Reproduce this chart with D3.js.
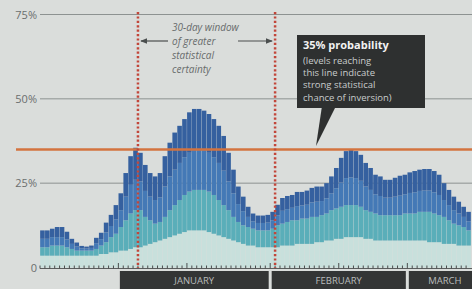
<!DOCTYPE html>
<html><head><meta charset="utf-8">
<script src="https://cdn.jsdelivr.net/npm/d3@7"></script>
<style>html,body{margin:0;padding:0;background:#dadddb;}svg{display:block;}</style>
</head><body>
<script>
// ---- data ----
const startDate = new Date(2014, 11, 16);
const endDate = new Date(2015, 2, 14);
const yTicks = [0, 25, 50, 75];
const yTickLabels = ["0", "25%", "50%", "75%"];
const threshold = 35;
const windowDates = [new Date(2015, 0, 5), new Date(2015, 1, 2)];
const months = ["JANUARY", "FEBRUARY", "MARCH"];
const monthStarts = [new Date(2015, 0, 1), new Date(2015, 1, 1), new Date(2015, 2, 1)];
// cumulative band tops (percent)
const paleTop = [3.5,3.5,3.5,3.5,3.5,3.5,3.5,3.5,3.5,3.5,
  3.5,3.5,4,4,4.5,4.5,5,5,5.5,6,
  6,6.5,7,7.5,8,8.5,9,9.5,10,10.5,
  11,11,11,11,10.5,10,9.5,9,8.5,8,
  7.5,7,6.5,6.5,6,6,6,6,6,6.5,
  6.5,6.5,7,7,7,7,7.5,7.5,8,8,
  8.5,8.5,9,9,9,9,8.5,8.5,8,8,
  8,8,8,8,8,8,8,8,8,7.5,
  7.5,7.5,7,7,7,6.5,6.5,6.5];
const tealTop = [6,6,6.5,6.5,6.5,6,5.5,5,5,5,
  5,5.5,6.5,7.5,9,10,12,14,16,17,
  17,15,14,13,13.5,15,17,18.5,20,21.5,
  22.5,23,23,23,22.5,21.5,20,18.5,17,15,
  13.5,12.5,12,11.5,11,11,11,11.5,12.5,13,
  13.5,14,14,14.5,14.5,15,15,15.5,16,17,
  17.5,18,18.5,18.5,18.5,18,17,16.5,16,15.5,
  15.5,15.5,15.5,15.5,16,16,16,16.5,16.5,16.5,
  16,15.5,15,14,13,12.5,12,11];
const blueTop = [8.5,8.5,9,9,9,8.3,7,6.2,5.7,5.6,
  5.8,7.2,8.4,10.4,12.3,14.3,17,21,24.5,26,
  25.5,22.7,21,20,20.8,24,27,29,31,32.7,
  34,35,35,34.8,34,32.7,31,28.7,25.5,22,
  18.8,16.7,15,13.7,13.2,13.2,13.3,14,15.5,16.8,
  17.3,17.7,18.2,18.4,18.6,19.3,19.5,19.7,20.5,22,
  23.5,25.2,26.5,26.7,26.5,25.7,24,23,21.7,21.2,
  20.7,20.7,21,21.3,21.7,22.1,22.3,22.7,22.8,22.8,
  22.3,21.5,20,18.5,17,16,15,13.7];
const totalTop = [11,11,11.5,12,12,10.6,8.5,7.4,6.4,6.2,
  6.5,8.8,10.3,13.3,15.6,18.5,22,28,33,35.5,
  34,30.4,28,27,28,33,37,40,42,44,
  46,47,47,46.5,45.5,44,42,39,34,29,
  24,21,18,16,15.4,15.4,15.6,16.5,18.6,20.6,
  21.2,21.5,22.4,22.4,22.8,23.6,24,24,25,27,
  29.5,32.5,34.5,35,34.5,33.4,31,29.5,27.5,27,
  26,26,26.6,27.2,27.5,28.2,28.6,29,29.2,29.2,
  28.6,27.5,25,23,21,19.5,18,16.5];
const layerColors = ["#c8e0dc", "#5aaeb9", "#4479b6", "#35609f"];

// ---- chart ----
const W = 472, H = 289;
const dates = d3.timeDay.range(startDate, endDate);
const svg = d3.select("body").append("svg").attr("width", W).attr("height", H);
svg.append("rect").attr("width", W).attr("height", H).attr("fill", "#dadddb");

const x = d3.scaleBand().domain(dates.map(d => +d)).range([40, 471]).paddingInner(0.06).paddingOuter(0.03);
const step = x.step();
const bandStart = d => x(+d) - step * 0.03;
const y = d3.scaleLinear().domain([0, 75]).range([267.5, 14.5]);

// gridlines
svg.append("g").selectAll("line").data(yTicks.filter(v => v > 0)).join("line")
  .attr("x1", 40).attr("x2", W).attr("y1", d => y(d)).attr("y2", d => y(d))
  .attr("stroke", "#8d9291").attr("stroke-width", 1);

// y labels
svg.append("g").selectAll("text").data(yTicks).join("text")
  .attr("x", 37).attr("y", d => y(d) + 4).attr("text-anchor", "end")
  .attr("font-family", "Open Sans, sans-serif").attr("font-size", 11)
  .attr("fill", "#6a6e6e").text((d, i) => yTickLabels[i]);

// stacked bars
const bounds = dates.map((d, i) => [0, paleTop[i], tealTop[i], blueTop[i], totalTop[i]]);
layerColors.forEach((c, k) => {
  svg.append("g").selectAll("rect").data(dates).join("rect")
    .attr("x", d => x(+d)).attr("width", x.bandwidth())
    .attr("y", (d, i) => y(bounds[i][k + 1]))
    .attr("height", (d, i) => y(bounds[i][k]) - y(bounds[i][k + 1]))
    .attr("fill", c);
});

// baseline + day ticks
svg.append("line").attr("x1", 40).attr("x2", W).attr("y1", 268.5).attr("y2", 268.5)
  .attr("stroke", "#5a5e5e").attr("stroke-width", 1);
svg.append("g").selectAll("line").data(dates).join("line")
  .attr("x1", d => bandStart(d)).attr("x2", d => bandStart(d))
  .attr("y1", d => (d.getDate() === 1 || d.getDate() === 15) ? 263 : 265.5).attr("y2", 268.5)
  .attr("stroke", "#4a4e4e").attr("stroke-width", 1);

// month bars
const monthEnds = [monthStarts[1], monthStarts[2], null];
const mg = svg.append("g");
months.forEach((m, i) => {
  const x0 = bandStart(monthStarts[i]) + 1.5;
  const x1 = monthEnds[i] ? bandStart(monthEnds[i]) - 1.5 : W;
  mg.append("rect").attr("x", x0).attr("y", 271).attr("width", x1 - x0).attr("height", 18).attr("fill", "#333535");
  mg.append("text").attr("x", i === 2 ? x0 + 36 : (x0 + x1) / 2).attr("y", 284).attr("text-anchor", "middle")
    .attr("font-family", "Open Sans, sans-serif").attr("font-size", 9.5)
    .attr("fill", "#b9bcbc").text(m);
});

// threshold line
svg.append("line").attr("x1", 16).attr("x2", W).attr("y1", y(threshold)).attr("y2", y(threshold))
  .attr("stroke", "#d3733f").attr("stroke-width", 2.5);

// window dotted lines
svg.append("g").selectAll("line").data(windowDates).join("line")
  .attr("x1", d => bandStart(d)).attr("x2", d => bandStart(d))
  .attr("y1", 12).attr("y2", 268)
  .attr("stroke", "#c2463a").attr("stroke-width", 2.5).attr("stroke-dasharray", "2.2,2.2");

// arrows
const defs = svg.append("defs");
defs.append("marker").attr("id", "ah").attr("viewBox", "0 0 10 10").attr("refX", 9).attr("refY", 5)
  .attr("markerWidth", 6).attr("markerHeight", 6).attr("orient", "auto")
  .append("path").attr("d", "M0,1 L10,5 L0,9 Z").attr("fill", "#4a4e4e");
const wx0 = bandStart(windowDates[0]), wx1 = bandStart(windowDates[1]);
svg.append("line").attr("x1", 168).attr("x2", wx0 + 3).attr("y1", 41).attr("y2", 41)
  .attr("stroke", "#4a4e4e").attr("stroke-width", 1.2).attr("marker-end", "url(#ah)");
svg.append("line").attr("x1", 238).attr("x2", wx1 - 3).attr("y1", 41).attr("y2", 41)
  .attr("stroke", "#4a4e4e").attr("stroke-width", 1.2).attr("marker-end", "url(#ah)");
const wt = svg.append("text").attr("font-family", "Open Sans, sans-serif").attr("font-style", "italic")
  .attr("font-size", 10).attr("fill", "#686c6c");
["30-day window", "of greater", "statistical", "certainty"].forEach((t, i) => {
  wt.append("tspan").attr("x", 172).attr("y", 31 + i * 14).text(t);
});

// annotation box
svg.append("path").attr("d", "M322,106 L336,106 L316,146 Z").attr("fill", "#2e3030");
svg.append("rect").attr("x", 297).attr("y", 35).attr("width", 128).attr("height", 73).attr("fill", "#2e3030");
svg.append("text").attr("x", 303).attr("y", 49).attr("font-family", "Open Sans, sans-serif")
  .attr("font-weight", "bold").attr("font-size", 11).attr("fill", "#f2f2f2").text("35% probability");
const bt = svg.append("text").attr("font-family", "Open Sans, sans-serif").attr("font-size", 9.5)
  .attr("fill", "#c9cccc");
["(levels reaching", "this line indicate", "strong statistical", "chance of inversion)"].forEach((t, i) => {
  bt.append("tspan").attr("x", 303).attr("y", 64 + i * 12.2).text(t);
});
</script>
</body></html>
